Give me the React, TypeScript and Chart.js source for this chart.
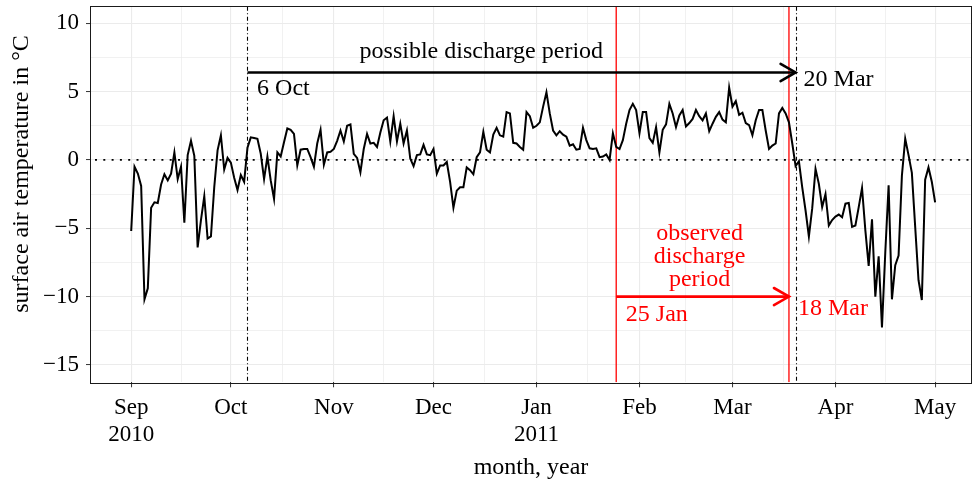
import { useEffect, useRef } from 'react';
import { Chart, registerables } from 'chart.js';

Chart.register(...registerables);

// Daily mean surface air temperature (°C), one value per day from 1 Sep 2010 to 1 May 2011
const START_DATE = '2010-09-01';
const TEMPERATURE = [
  -5.2, -0.5, -1.0, -1.9, -10.2, -9.4, -3.5, -3.1, -3.15, -1.8,
  -1.05, -1.5, -1.0, 0.55, -1.4, -0.5, -4.6, 0.35, 1.4, 0.3,
  -6.4, -4.4, -2.65, -5.75, -5.6, -2.0, 0.7, 1.8, -0.7, 0.15,
  -0.2, -1.3, -2.2, -1.1, -1.6, 0.9, 1.65, 1.6, 1.55, 0.45,
  -1.4, 0.25, -1.5, -2.85, 0.55, 0.25, 1.3, 2.3, 2.2, 1.9,
  -0.4, 0.75, 0.8, 0.8, 0.2, -0.5, 1.2, 2.2, -0.35, 0.55,
  0.6, 0.8, 1.4, 2.15, 1.35, 2.5, 2.6, 0.45, 0.15, -0.9,
  0.8, 1.9, 1.2, 1.25, 0.95, 2.0, 2.9, 3.1, 1.35, 3.2,
  1.35, 2.65, 1.2, 2.15, 0.1, -0.45, 0.35, 0.4, 1.1, 0.4,
  0.35, 0.8, -1.0, -0.4, -0.4, -0.15, -1.6, -3.5, -2.25, -2.0,
  -2.0, -0.55, -0.75, -1.05, 0.2, 0.55, 2.05, 0.75, 0.55, 1.85,
  2.35, 1.8, 1.7, 3.5, 3.4, 1.25, 1.2, 0.95, 0.75, 3.5,
  3.2, 2.35, 2.5, 2.75, 3.9, 4.95, 3.4, 2.15, 1.8, 2.1,
  1.85, 1.7, 1.05, 1.15, 0.75, 0.8, 2.35, 1.45, 0.85, 0.8,
  0.85, 0.2, 0.25, 0.4, 0.0, 1.95, 0.95, 0.8, 1.45, 2.65,
  3.65, 4.1, 3.65, 1.95, 3.5, 3.5, 1.6, 1.25, 2.4, 0.55,
  2.2, 2.6, 4.1, 3.4, 2.4, 3.25, 3.65, 2.45, 2.7, 3.0,
  3.65, 3.2, 2.9, 3.4, 2.1, 2.65, 3.15, 3.5, 2.95, 2.75,
  5.3, 3.9, 4.3, 3.3, 3.45, 2.7, 2.55, 1.8, 2.9, 3.65,
  3.65, 2.15, 0.8, 1.05, 1.2, 3.4, 3.8, 3.4, 2.75, 1.2,
  -0.45, -0.1, -2.0, -3.7, -5.6, -3.55, -0.65, -1.75, -3.45, -2.5,
  -4.8, -4.4, -4.15, -4.0, -4.2, -3.2, -3.15, -4.9, -4.8, -3.45,
  -2.05, -5.15, -7.75, -4.35, -10.0, -7.05, -12.25, -6.75, -1.85, -10.2,
  -7.7, -7.0, -1.15, 1.55, 0.35, -0.95, -4.9, -8.8, -10.25, -1.45,
  -0.55, -1.6, -3.1,
];

// Month axis
const MONTH_STARTS = [
  '2010-09-01', '2010-10-01', '2010-11-01', '2010-12-01', '2011-01-01',
  '2011-02-01', '2011-03-01', '2011-04-01', '2011-05-01',
];
const MONTH_LABELS: (string | string[])[] = [
  ['Sep', '2010'], 'Oct', 'Nov', 'Dec', ['Jan', '2011'], 'Feb', 'Mar', 'Apr', 'May',
];

// Temperature axis
const Y_MAJOR_TICKS = [-15, -10, -5, 0, 5, 10];
const Y_MINOR_TICKS = [-12.5, -7.5, -2.5, 2.5, 7.5];

// Discharge periods
const POSSIBLE_PERIOD = ['2010-10-06', '2011-03-20'];
const OBSERVED_PERIOD = ['2011-01-25', '2011-03-18'];
const POSSIBLE_ARROW_LEVEL = 6.4;
const OBSERVED_ARROW_LEVEL = -10;

const DAY_MS = 86400000;
const dayOf = (iso: string) => (Date.parse(iso + 'T00:00:00Z') - Date.parse(START_DATE + 'T00:00:00Z')) / DAY_MS;

const SERIF = '"Liberation Serif", "Times New Roman", Times, serif';
const RED = '#ff0000';

type TextNote = { lines: string[]; day: number; value: number; align: CanvasTextAlign; color: string };

const TEXT_NOTES: TextNote[] = [
  { lines: ['possible discharge period'], day: 105.4, value: 7.9, align: 'center', color: '#000' },
  { lines: ['6 Oct'], day: 37.9, value: 5.2, align: 'left', color: '#000' },
  { lines: ['20 Mar'], day: 202.4, value: 5.9, align: 'left', color: '#000' },
  { lines: ['observed', 'discharge', 'period'], day: 171.1, value: -7.1, align: 'center', color: RED },
  { lines: ['25 Jan'], day: 148.9, value: -11.3, align: 'left', color: RED },
  { lines: ['18 Mar'], day: 200.7, value: -10.9, align: 'left', color: RED },
];

const monthDays = MONTH_STARTS.map(dayOf);
const minorDays = monthDays.slice(1).map((d, i) => (d + monthDays[i]) / 2);
const xTickValues = [...monthDays, ...minorDays].sort((a, b) => a - b);
const yTickValues = [...Y_MAJOR_TICKS, ...Y_MINOR_TICKS].sort((a, b) => a - b);

const isMonth = (v: number) => monthDays.indexOf(v) >= 0;
const isMajorY = (v: number) => Y_MAJOR_TICKS.indexOf(v) >= 0;

function drawArrow(ctx: CanvasRenderingContext2D, x1: number, x2: number, y: number, color: string) {
  ctx.save();
  ctx.strokeStyle = color;
  ctx.lineWidth = 2.6;
  ctx.lineCap = 'butt';
  ctx.beginPath();
  ctx.moveTo(x1, y);
  ctx.lineTo(x2, y);
  ctx.stroke();
  ctx.lineCap = 'round';
  ctx.lineJoin = 'miter';
  ctx.beginPath();
  ctx.moveTo(x2 - 15, y - 8.6);
  ctx.lineTo(x2, y);
  ctx.lineTo(x2 - 15, y + 8.6);
  ctx.stroke();
  ctx.restore();
}

const annotationPlugin = {
  id: 'dischargeAnnotations',
  beforeDatasetsDraw(chart: Chart) {
    const { ctx, chartArea: a, scales } = chart;
    const x = scales.x;
    const y = scales.y;
    ctx.save();
    ctx.beginPath();
    ctx.rect(a.left, a.top, a.right - a.left, a.bottom - a.top);
    ctx.clip();

    // zero line
    ctx.strokeStyle = '#000';
    ctx.lineWidth = 1.6;
    ctx.setLineDash([2, 6.3]);
    const y0 = y.getPixelForValue(0);
    ctx.beginPath();
    ctx.moveTo(a.left + 4, y0);
    ctx.lineTo(a.right, y0);
    ctx.stroke();

    // possible discharge period bounds
    ctx.lineWidth = 1.1;
    ctx.setLineDash([4, 2.5, 1, 2.5]);
    POSSIBLE_PERIOD.forEach((d) => {
      const px = Math.round(x.getPixelForValue(dayOf(d))) + 0.5;
      ctx.beginPath();
      ctx.moveTo(px, a.top);
      ctx.lineTo(px, a.bottom);
      ctx.stroke();
    });

    // observed discharge period bounds
    ctx.setLineDash([]);
    ctx.strokeStyle = RED;
    ctx.lineWidth = 1.3;
    OBSERVED_PERIOD.forEach((d) => {
      const px = x.getPixelForValue(dayOf(d));
      ctx.beginPath();
      ctx.moveTo(px, a.top);
      ctx.lineTo(px, a.bottom);
      ctx.stroke();
    });
    ctx.restore();
  },
  afterDatasetsDraw(chart: Chart) {
    const { ctx, chartArea: a, scales } = chart;
    const x = scales.x;
    const y = scales.y;

    drawArrow(
      ctx,
      x.getPixelForValue(dayOf(POSSIBLE_PERIOD[0])),
      x.getPixelForValue(dayOf(POSSIBLE_PERIOD[1])),
      y.getPixelForValue(POSSIBLE_ARROW_LEVEL),
      '#000',
    );
    drawArrow(
      ctx,
      x.getPixelForValue(dayOf(OBSERVED_PERIOD[0])),
      x.getPixelForValue(dayOf(OBSERVED_PERIOD[1])),
      y.getPixelForValue(OBSERVED_ARROW_LEVEL),
      RED,
    );

    ctx.save();
    ctx.font = `24px ${SERIF}`;
    ctx.textBaseline = 'middle';
    const lineGap = 23;
    TEXT_NOTES.forEach((n) => {
      ctx.fillStyle = n.color;
      ctx.textAlign = n.align;
      const px = x.getPixelForValue(n.day);
      const cy = y.getPixelForValue(n.value);
      const first = cy - ((n.lines.length - 1) * lineGap) / 2;
      n.lines.forEach((line, i) => ctx.fillText(line, px, first + i * lineGap));
    });
    ctx.restore();

    // panel border
    ctx.save();
    ctx.strokeStyle = '#1a1a1a';
    ctx.lineWidth = 1;
    ctx.strokeRect(Math.round(a.left) - 0.5, Math.round(a.top) - 0.5, Math.round(a.right - a.left) + 1, Math.round(a.bottom - a.top) + 1);
    ctx.restore();
  },
  afterDraw(chart: Chart) {
    const { ctx } = chart;
    ctx.save();
    ctx.translate(22, 174);
    ctx.rotate(-Math.PI / 2);
    ctx.font = `24px ${SERIF}`;
    ctx.fillStyle = '#000';
    ctx.textAlign = 'center';
    ctx.textBaseline = 'middle';
    ctx.fillText('surface air temperature in \u00B0C', 0, 0);
    ctx.restore();
  },
};

export default function App() {
  const canvasRef = useRef<HTMLCanvasElement>(null);

  useEffect(() => {
    const canvas = canvasRef.current;
    if (!canvas) return;
    const points = TEMPERATURE.map((v, i) => ({ x: i, y: v }));

    const chart = new Chart(canvas, {
      type: 'line',
      data: {
        datasets: [
          {
            data: points,
            borderColor: '#000',
            borderWidth: 2,
            pointRadius: 0,
            tension: 0,
            fill: false,
          },
        ],
      },
      options: {
        animation: false,
        responsive: false,
        devicePixelRatio: 1,
        parsing: false,
        normalized: true,
        layout: { padding: { top: 6.7, right: 1, left: 0, bottom: 0 } },
        plugins: {
          legend: { display: false },
          tooltip: { enabled: false },
        },
        scales: {
          x: {
            type: 'linear',
            min: -12.1,
            max: 252.8,
            afterBuildTicks: (s: any) => {
              s.ticks = xTickValues.map((v) => ({ value: v }));
            },
            afterFit: (s: any) => {
              s.height = 100.7;
              s.paddingLeft = 0;
              s.paddingRight = 0;
            },
            border: { display: false },
            grid: {
              color: '#ebebeb',
              lineWidth: (c: any) => (c.tick && isMonth(c.tick.value) ? 1.1 : 0.7),
              drawTicks: true,
              tickLength: 5,
              tickWidth: 1,
              tickColor: (c: any) => (c.tick && isMonth(c.tick.value) ? '#333' : 'rgba(0,0,0,0)'),
            },
            ticks: {
              autoSkip: false,
              maxRotation: 0,
              minRotation: 0,
              padding: 7,
              color: '#000',
              font: { family: SERIF, size: 23, lineHeight: 1.17 },
              callback: (v: any) => {
                const i = monthDays.indexOf(Number(v));
                return i >= 0 ? MONTH_LABELS[i] : '';
              },
            },
            title: {
              display: true,
              text: 'month, year',
              color: '#000',
              font: { family: SERIF, size: 24, lineHeight: 1.2 },
              padding: { top: 0, bottom: 1.2 },
            },
          },
          y: {
            type: 'linear',
            min: -16.27,
            max: 11.21,
            afterBuildTicks: (s: any) => {
              s.ticks = yTickValues.map((v) => ({ value: v }));
            },
            afterFit: (s: any) => {
              s.width = 91;
              s.paddingTop = 0;
              s.paddingBottom = 0;
            },
            border: { display: false },
            grid: {
              color: '#ebebeb',
              lineWidth: (c: any) => (c.tick && isMajorY(c.tick.value) ? 1.1 : 0.7),
              drawTicks: true,
              tickLength: 5,
              tickWidth: 1,
              tickColor: (c: any) => (c.tick && isMajorY(c.tick.value) ? '#333' : 'rgba(0,0,0,0)'),
            },
            ticks: {
              padding: 7,
              color: '#000',
              font: { family: SERIF, size: 23 },
              callback: (v: any) => {
                const n = Number(v);
                if (!isMajorY(n)) return '';
                return n < 0 ? '\u2212' + Math.abs(n) : String(n);
              },
            },
          },
        },
      },
      plugins: [annotationPlugin],
    });

    return () => chart.destroy();
  }, []);

  return (
    <div style={{ position: 'fixed', left: 0, top: 0, width: 972, height: 483, background: '#fff' }}>
      <canvas ref={canvasRef} width={972} height={483} style={{ width: 972, height: 483, display: 'block' }} />
    </div>
  );
}
